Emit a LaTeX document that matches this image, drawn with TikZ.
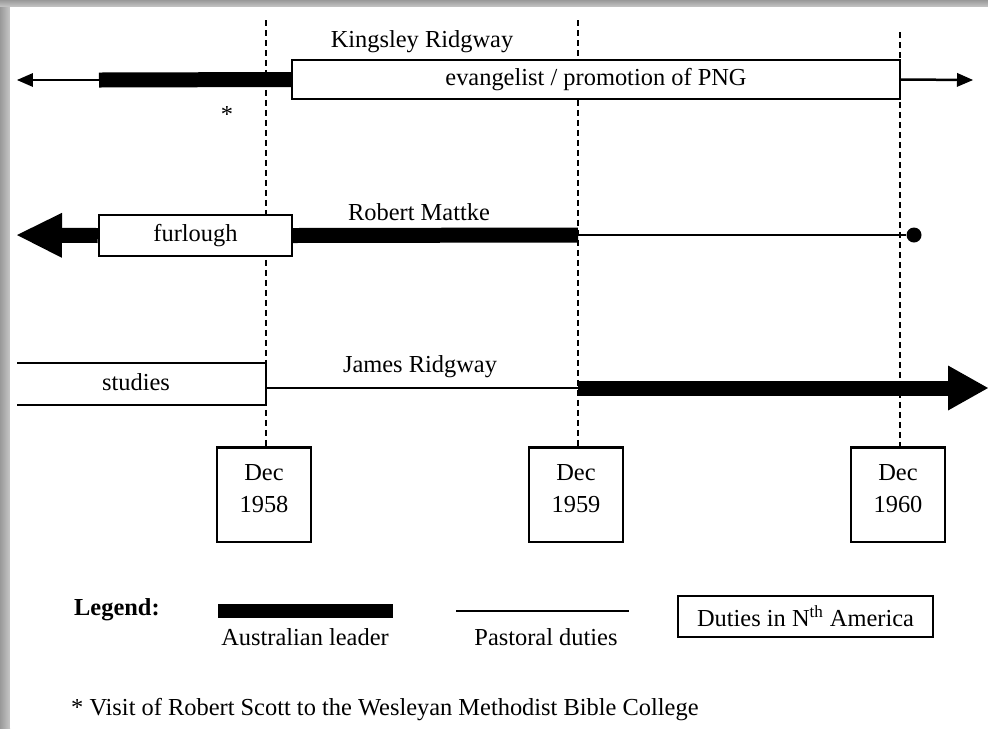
\documentclass[tikz,border=0pt]{standalone}
\usepackage{fontspec}
\setmainfont{Liberation Serif}
\usetikzlibrary{arrows.meta}

\begin{document}
\begin{tikzpicture}[x=0.02cm, y=-0.02cm,
  font=\fontsize{13.9}{18}\selectfont,
  thinline/.style={line width=0.05cm},
  thickbar/.style={line width=0.3cm},
  yearline/.style={line width=0.05cm, dash pattern=on 0.12cm off 0.08cm},
  dutybox/.style={draw, fill=white, line width=0.05cm, inner sep=0pt},
  datebox/.style={draw, fill=white, line width=0.05cm, align=center,
    minimum width=1.88cm, minimum height=1.9cm, text depth=0.24cm, inner sep=0pt},
  smallhead/.style={-{Triangle[length=0.32cm, width=0.28cm, line width=0pt]}}]

\useasboundingbox (0,0) rectangle (988,728);
\shade[top color=black!40, bottom color=black!22] (0,0) rectangle (988,7);
\shade[left color=black!40, right color=black!22] (0,7) rectangle (10,728);
\fill[white] (10,7) rectangle (988,728);

\coordinate (t58) at (266,20);
\coordinate (t59) at (578,20);
\coordinate (t60) at (900,32);
\node[datebox, anchor=north] (d58) at (264,446) {Dec\\1958};
\node[datebox, anchor=north] (d59) at (576,446) {Dec\\1959};
\node[datebox, anchor=north] (d60) at (898,446) {Dec\\1960};
\draw[yearline] (t58) -- (t58 |- d58.north);
\draw[yearline] (t59) -- (t59 |- d59.north);
\draw[yearline] (t60) -- (t60 |- d60.north);

% Kingsley Ridgway
\node[dutybox, minimum width=12.16cm, minimum height=0.78cm] (evang) at (596,79.5)
  {evangelist / promotion of PNG};
\coordinate (kleft) at (17,80);
\coordinate (kmid) at (99,80);
\coordinate (kright) at (973,80);
\draw[thickbar] (kmid) -- (evang.west);
\draw[thinline, smallhead] (kmid) -- (kleft);
\draw[thinline, smallhead] (evang.east) -- (kright);
\node[anchor=base] (kingsley) at (422,47) {Kingsley Ridgway};
\node[anchor=base] (visit) at (227,122) {*};

% Robert Mattke
\node[dutybox, minimum width=3.86cm, minimum height=0.82cm] (furlough) at (195.5,235.5) {furlough};
\coordinate (mleft) at (17,235);
\coordinate (m59) at (578,235);
\node[circle, fill, inner sep=0pt, minimum size=0.3cm] (mend) at (914,235) {};
\draw[thickbar, -{Triangle[length=0.9cm, width=0.9cm, line width=0pt]}] (furlough.west) -- (mleft);
\draw[thickbar] (furlough.east) -- (m59);
\draw[thinline] (m59) -- (mend);
\node[anchor=base] (mattke) at (419,220) {Robert Mattke};

% James Ridgway
\coordinate (sa) at (17,363);
\coordinate (sb) at (266,363);
\coordinate (sc) at (266,405);
\coordinate (sd) at (17,405);
\draw[thinline] (sa) -- (sb) -- (sc) -- (sd);
\node[anchor=base] (studies) at (136,390) {studies};
\coordinate (j58) at (266,388);
\coordinate (j59) at (578,388);
\coordinate (jright) at (988,388);
\draw[thinline] (j58) -- (j59);
\draw[thickbar, -{Triangle[length=0.8cm, width=0.9cm, line width=0pt]}] (j59) -- (jright);
\node[anchor=base] (james) at (420,372) {James Ridgway};

% legend
\node[anchor=base west] (legend) at (68,615) {\bfseries Legend:};
\coordinate (la) at (218,611);
\coordinate (lb) at (393,611);
\draw[line width=0.28cm] (la) -- (lb);
\node[anchor=base] (aussie) at (305,645) {Australian leader};
\coordinate (pa) at (456,611);
\coordinate (pb) at (629,611);
\draw[thinline] (pa) -- (pb);
\node[anchor=base] (pastoral) at (546,645) {Pastoral duties};
\node[dutybox, minimum width=5.1cm, minimum height=0.82cm] (america) at (805.5,616.5)
  {Duties in N\textsuperscript{th} America};
\node[anchor=base west] (note) at (65,715)
  {* Visit of Robert Scott to the Wesleyan Methodist Bible College};
\end{tikzpicture}
\end{document}
